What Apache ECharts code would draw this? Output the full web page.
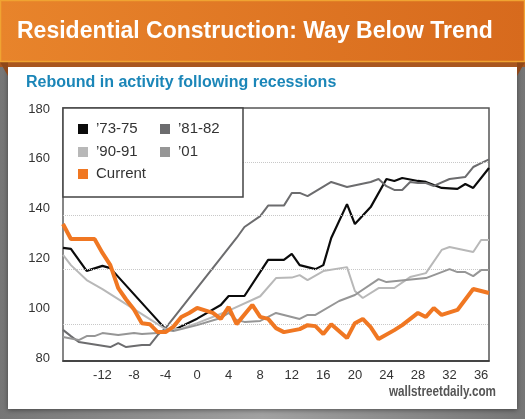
<!DOCTYPE html>
<html><head><meta charset="utf-8">
<script src="https://cdn.jsdelivr.net/npm/echarts@6/dist/echarts.min.js"></script>
<style>html,body{margin:0;padding:0;background:#8c8c8c}#c{width:525px;height:419px}</style>
</head><body><div id="c"></div>
<script>
// Months relative to the recession trough
const months = [-17,-16,-15,-14,-13,-12,-11,-10,-9,-8,-7,-6,-5,-4,-3,-2,-1,0,1,2,3,4,5,6,7,8,9,10,11,12,13,14,15,16,17,18,19,20,21,22,23,24,25,26,27,28,29,30,31,32,33,34,35,36,37];
const seriesNames = ['’73-75','’81-82','’90-91','’01','Current'];
const s7375 = [124.2,123.8,null,115,null, 117,116.1,null,null,null, null,null,null,91.6,91.2, null,null,95.8,null,null, 101.3,104.9,null,104.9,null, null,119.4,null,119.4,121.8, 117.3,null,115.7,117.3,128.2, null,141.8,133.8,null,140.6, null,151.9,151.1,152.3,null, 151.1,150.7,null,148.3,null, 147.9,149.9,148.3,null,156.3];
const s8182 = [91.3,88.8,86.4,null,null, null,84.4,86,84.4,null, 85.2,85.2,89.2,92,null, null,null,null,null,null, null,null,128.2,132.6,null, 137,141.2,null,141.2,146.3, 146.3,145,null,null,150.7, null,148.7,null,null,150.7, 151.9,149,147.5,147.5,150.7, 150.3,150.3,149.1,null,151.9, null,152.7,156.7,158.3,159.8];
const s9091 = [121.4,117.3,null,111.3,null, 107.7,null,null,null,null, null,null,null,91.6,null, 91.8,null,94,null,null, null,99,null,null,null, 104.8,null,112.1,null,112.3, 113.3,111.3,null,114.9,null, null,116.5,106.9,104.1,null, 108.1,null,108.1,null,112.5, null,114.1,null,123.4,124.6, null,null,122.6,127.4,127.4];
const s01 = [88.4,null,87.2,88.8,88.8, 90,null,89.2,null,90, 89.6,null,90,91.2,90.8, null,null,93.2,null,null, 96.1,98.1,95.3,94.5,null, 94.9,null,98.1,null,null, 95.7,97.3,97.3,null,null, 102.9,null,105.3,null,null, 111.7,110.5,null,null,null, null,112.1,null,null,115.7, 114.5,114.5,112.9,115.3,115.3];
const current = [133.8,127.8,null,null,127.8, 122.2,117.3,108.1,103.5,99.5, 94,93.6,90.4,90.4,92.6, 96.5,98.1,100.1,null,98.1, 95.7,100.5,93.6,null,101.3, 96.5,95.7,92,90.4,null, 91.6,93.2,92.8,89.6,93.6, null,88,94,95.7,92.4, 87.6,null,91.2,93.2,null, 98.1,96.5,100.1,97.3,null, 99.3,null,107.7,null,106.1];
const xTicks = [-12,-8,-4,0,4,8,12,16,20,24,28,32,36];
const yTicks = [80,100,120,140,160,180];

const chart = echarts.init(document.getElementById('c'), null, {renderer:'canvas', width:525, height:419});
const colors = ['#0b0b0b','#6c6c6e','#b8b8b8','#969696','#f07722'];
const widths = [2.2,2,2,2,4];
const allData = [s7375, s8182, s9091, s01, current];
const FONT = 'Liberation Sans, Arial, Helvetica, sans-serif';

const series = allData.map((arr, i) => ({
  type:'line', name: seriesNames[i],
  data: months.map((m, j) => [m, arr[j]]).filter(p => p[1] !== null),
  symbol:'none', showSymbol:false, silent:true, z: 3 + i,
  lineStyle:{color:colors[i], width:widths[i]},
  itemStyle:{color:colors[i]}
}));
series[0].markLine = {
  silent:true, symbol:'none', label:{show:false},
  lineStyle:{type:'dotted', color:'#c8c8c8', width:1},
  data:[{yAxis:158.7},{yAxis:137.2},{yAxis:115.7},{yAxis:93.7}]
};

const legendPos = [[78,121],[160,121],[78,144],[160,144],[78,166]];
const legends = seriesNames.map((n, i) => ({
  data:[n], left:legendPos[i][0], top:legendPos[i][1], padding:0, z:10,
  icon:'rect', itemWidth:10, itemHeight:10, selectedMode:false,
  textStyle:{color:'#333', fontSize:15, fontFamily:FONT, lineHeight:16, padding:[0,0,0,3]}
}));

chart.setOption({
  animation:false,
  backgroundColor:'#8c8c8c',
  title:[
    {text:'Residential Construction: Way Below Trend', left:17, top:20, padding:0,
     textStyle:{color:'#ffffff', fontSize:23, fontWeight:'bold', fontFamily:FONT}},
    {text:'Rebound in activity following recessions', left:26, top:75, padding:0,
     textStyle:{color:'#1b86b8', fontSize:16, fontWeight:'bold', fontFamily:FONT}}
  ],
  legend: legends,
  grid:{left:63, top:108, width:426, height:253, show:true, borderColor:'#555', borderWidth:1.5, backgroundColor:'transparent'},
  xAxis:{type:'value', min:-17, max:37,
    axisLine:{show:true, onZero:false, lineStyle:{color:'#333', width:1.5}},
    axisTick:{show:false}, splitLine:{show:false},
    axisLabel:{customValues:xTicks, color:'#333', fontSize:13, fontFamily:FONT, margin:8}},
  yAxis:{type:'value', min:78.8, max:180.4,
    axisLine:{show:true, onZero:false, lineStyle:{color:'#888', width:1.5}},
    axisTick:{show:false}, splitLine:{show:false},
    axisLabel:{customValues:yTicks, color:'#333', fontSize:13, fontFamily:FONT, margin:13}},
  graphic:[
    {type:'rect', z:-5, silent:true, shape:{x:0,y:0,width:525,height:419},
     style:{fill:new echarts.graphic.LinearGradient(0,0,1,0,[{offset:0,color:'#767676'},{offset:0.5,color:'#a2a2a2'},{offset:1,color:'#767676'}])}},
    {type:'rect', z:-4, silent:true, shape:{x:8,y:64,width:509,height:345},
     style:{fill:'#ffffff', shadowBlur:5, shadowColor:'rgba(0,0,0,0.45)', shadowOffsetY:1}},
    {type:'rect', z:-3, silent:true, shape:{x:0,y:60,width:525,height:7}, style:{fill:'#a9561f'}},
    {type:'polygon', z:-3, silent:true, shape:{points:[[0,62],[8,62],[8,76]]}, style:{fill:'#8f4719'}},
    {type:'polygon', z:-3, silent:true, shape:{points:[[517,62],[525,62],[517,76]]}, style:{fill:'#8f4719'}},
    {type:'rect', z:-2, silent:true, shape:{x:0.5,y:0.5,width:524,height:61},
     style:{fill:new echarts.graphic.LinearGradient(0,0,1,0,[{offset:0,color:'#e8842b'},{offset:1,color:'#d76a1d'}]), stroke:'#f0a332', lineWidth:1.5}},
    {type:'rect', z:8, silent:true, shape:{x:63,y:108,width:180,height:89},
     style:{fill:'#ffffff', stroke:'#444', lineWidth:1.5}},
    {type:'text', z:8, silent:true, x:496, y:399, scaleX:0.78,
     style:{text:'wallstreetdaily.com', x:0, y:0, align:'right', verticalAlign:'bottom',
     fill:'#555', font:'bold 15px "Liberation Sans", Arial, sans-serif'}}
  ],
  series: series
});
</script></body></html>
